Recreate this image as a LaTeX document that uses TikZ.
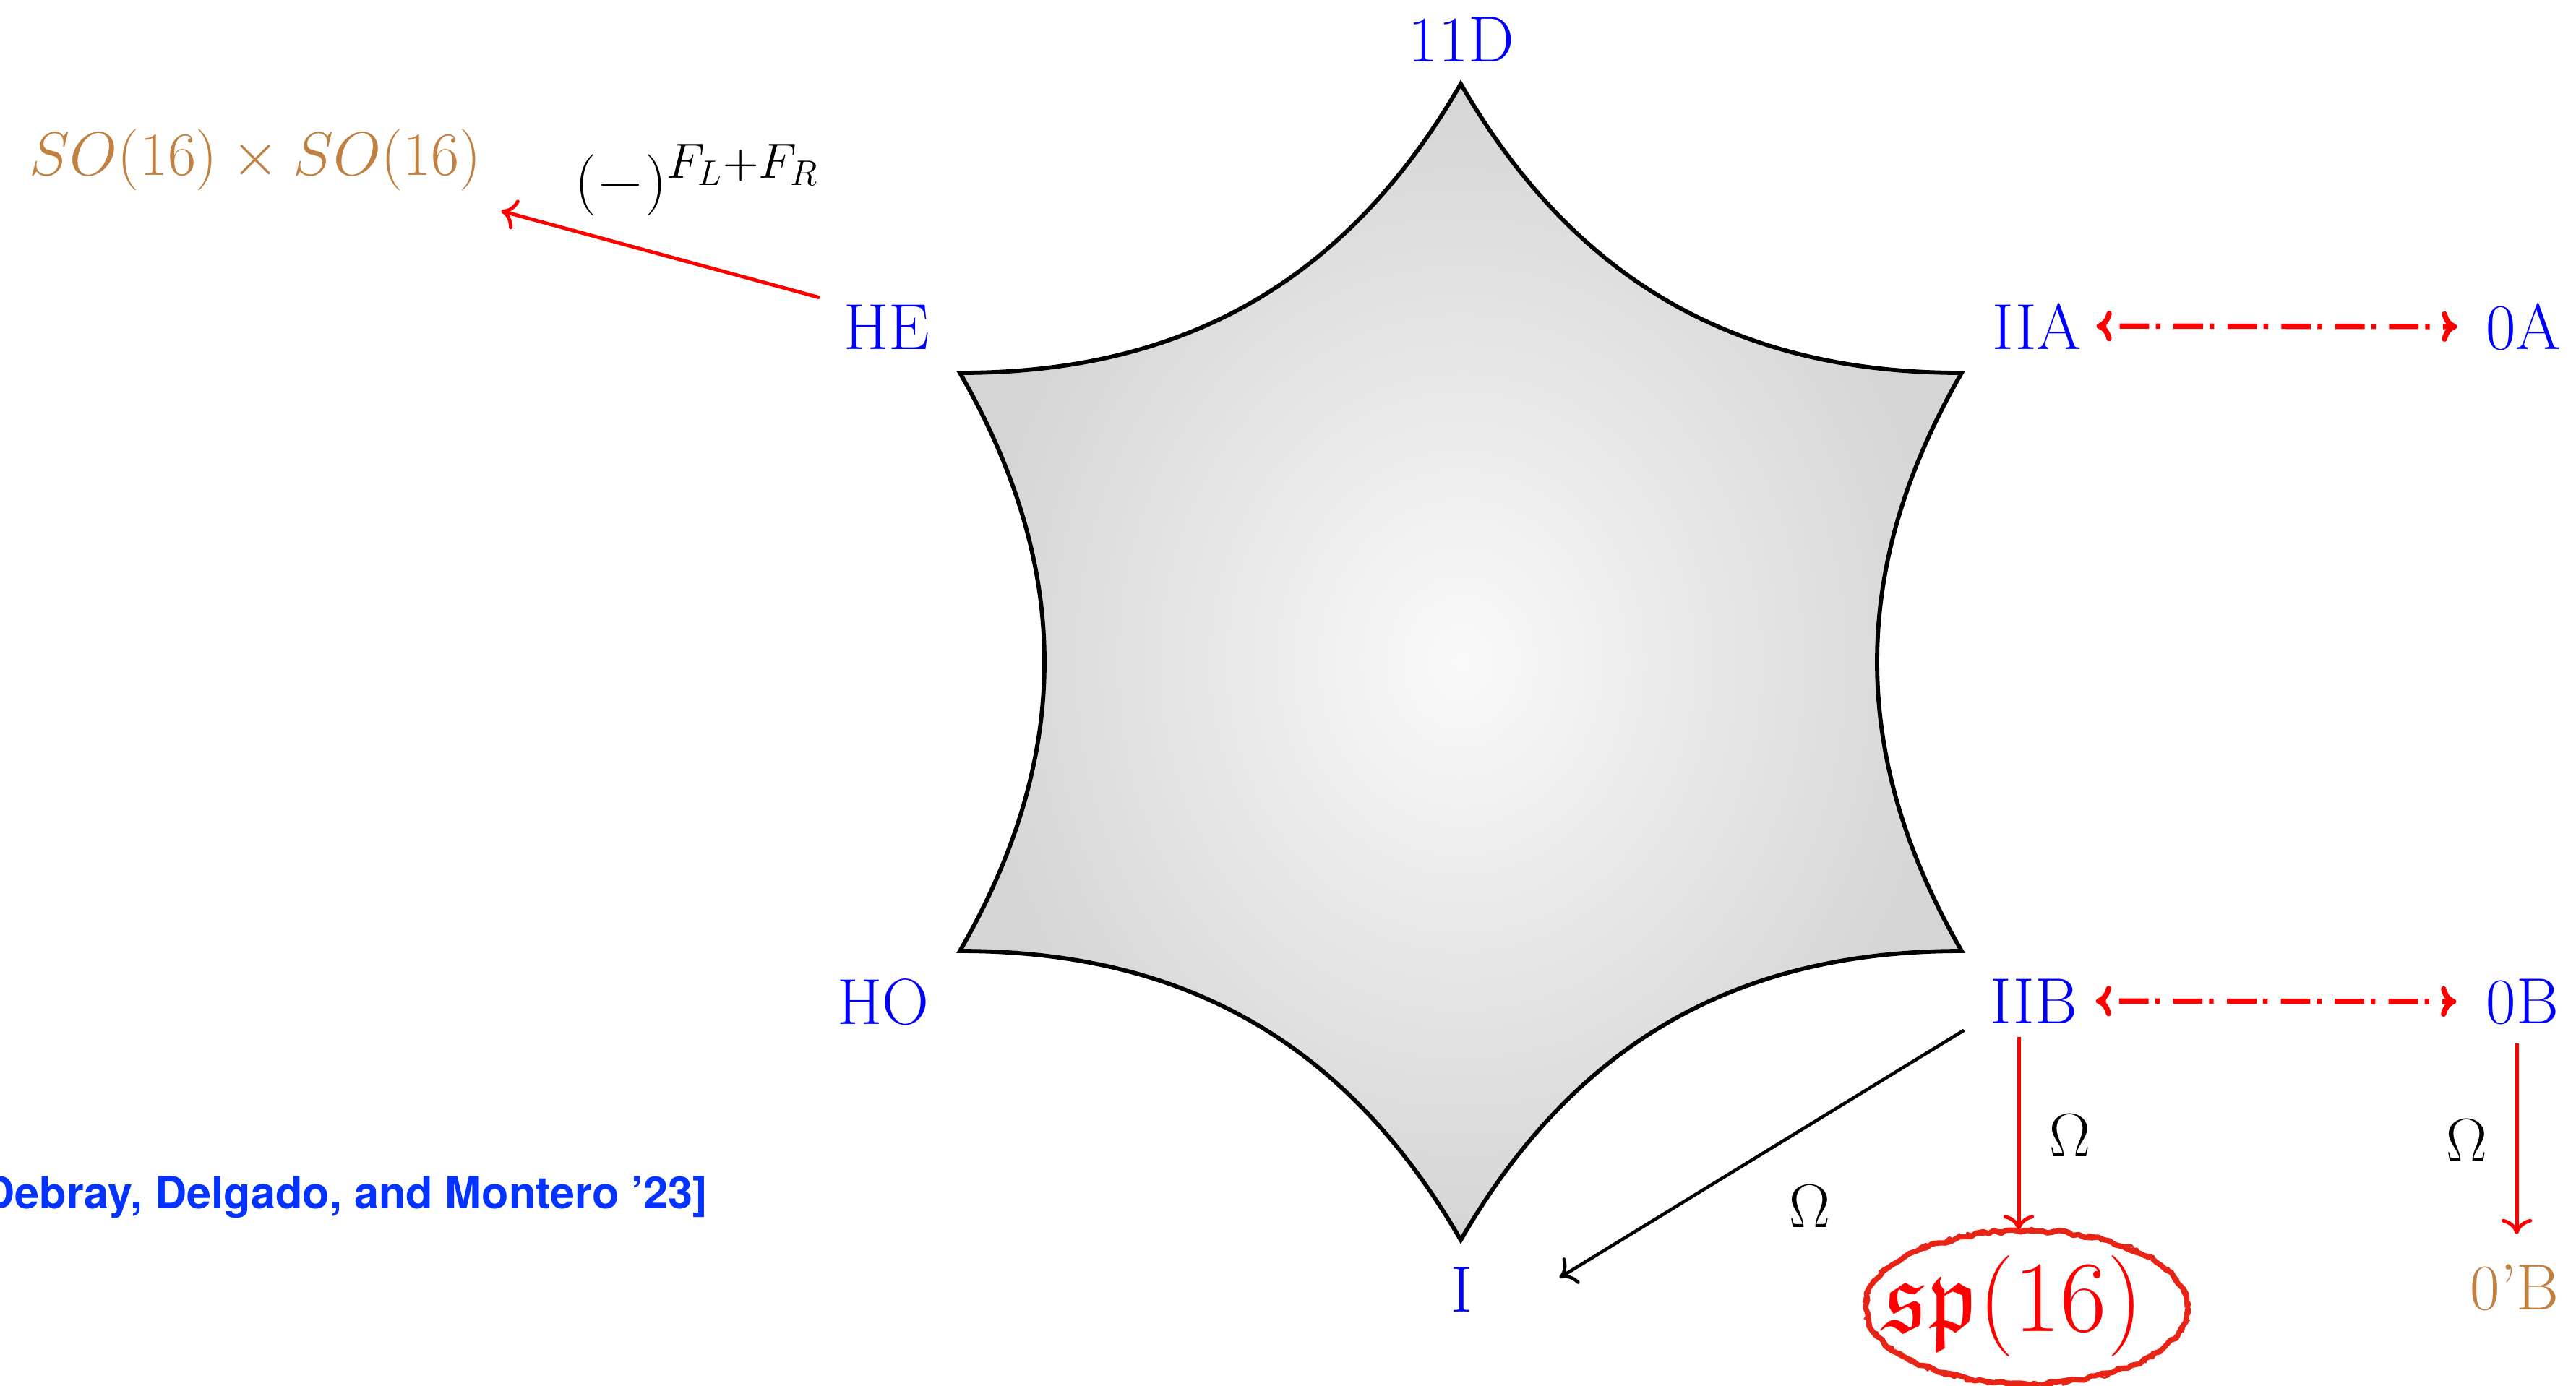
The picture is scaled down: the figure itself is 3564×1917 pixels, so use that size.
\RequirePackage{fix-cm}
\documentclass[tikz,border=0pt]{standalone}
\usepackage{amsmath,amssymb}
\usepackage{fontspec}
\newfontfamily\heros{TeX Gyre Heros}
\DeclareMathSizes{24.2}{24.2}{19.5}{14}
\usetikzlibrary{arrows.meta,decorations.pathmorphing,shapes.geometric,calc}
\definecolor{lblue}{RGB}{0,0,255}
\definecolor{sbrown}{RGB}{191,128,64}
\definecolor{citeblue}{RGB}{4,51,255}
\definecolor{crayon}{RGB}{232,36,22}
\begin{document}
\begin{tikzpicture}[x=0.01cm,y=-0.01cm,
  >={To[length=6pt,width=12pt]},
  lbl/.style={text=lblue, font=\fontsize{25.6pt}{30pt}\selectfont, inner sep=0pt, anchor=base},
  mathlbl/.style={font=\fontsize{24.2pt}{28pt}\selectfont, inner sep=0pt, anchor=base},
  starline/.style={draw=black, line width=1.65pt},
  redarr/.style={draw=red, line width=1.4pt, ->},
  blkarr/.style={draw=black, line width=1.3pt, ->},
  dd/.style={draw=red, line width=2.1pt, <->, dash pattern=on 1.8pt off 5.2pt on 11.6pt off 2.6pt},
  crayonline/.style={draw=crayon, line join=round, decorate,
     decoration={random steps, segment length=2.5pt, amplitude=0.7pt}}]
\useasboundingbox (0,0) rectangle (3564,1917);

% star
\coordinate (T) at (2021,116);
\coordinate (UR) at (2714,516);
\coordinate (LR) at (2714,1316);
\coordinate (B) at (2021,1716);
\coordinate (LL) at (1328,1316);
\coordinate (UL) at (1328,516);
\draw[starline, shade, inner color=gray!4, outer color=gray!33]
  (T) to[bend right=30] (UR) to[bend right=30] (LR) to[bend right=30] (B)
  to[bend right=30] (LL) to[bend right=30] (UL) to[bend right=30] cycle;

% labels
\node[lbl] (n11D) at (2022,85) {11D};
\node[lbl] (HE) at (1227,483) {HE};
\node[lbl] (IIA) at (2818,483) {IIA};
\node[lbl] (zA) at (3491,483) {0A};
\node[lbl] (HO) at (1222,1417) {HO};
\node[lbl] (IIB) at (2814,1416) {IIB};
\node[lbl] (zB) at (3490,1416) {0B};
\node[lbl] (I) at (2022,1815) {I};
\node[lbl, text=sbrown] (zpB) at (3479,1812) {0’B};

\node[mathlbl, text=sbrown, anchor=base west] (SO) at (40,242) {$SO(16)\times SO(16)$};
\node[mathlbl, text=black, anchor=base west] (FLR) at (795,277) {$(-)^{F_L+F_R}$};
\node[mathlbl, text=black] (om1) at (2504,1698) {$\Omega$};
\node[mathlbl, text=black] (om2) at (2864,1600) {$\Omega$};
\node[mathlbl, text=black] (om3) at (3413,1607) {$\Omega$};

\node[text=red, font=\fontsize{39.8pt}{44pt}\selectfont, inner sep=0pt, anchor=base] (sp) at (2785,1842) {$\mathfrak{sp}(16)$};
\node[ellipse, minimum width=4.44cm, minimum height=2.12cm, inner sep=0pt] (spE) at (2804,1809) {};
\pgfmathsetseed{7}
\draw[crayonline, line width=2.1pt] (spE.center) ellipse [x radius=2.22cm, y radius=1.06cm];
\pgfmathsetseed{21}
\draw[crayonline, line width=0.9pt, decoration={random steps, segment length=1.5pt, amplitude=1.1pt}] (spE.center) ellipse [x radius=2.23cm, y radius=1.07cm];

\node[anchor=base east, inner sep=0pt, text=citeblue, font={\fontsize{17.4pt}{20pt}\heros\bfseries}] (cite) at (980,1672) {[Debray, Delgado, and Montero ’23]};

% connectors
\draw[redarr] ([shift={(-33,-9)}]HE.north west) -- ([shift={(27,28)}]SO.south east);
\draw[dd, shorten <=0.20cm, shorten >=0.39cm] (IIA.east) -- (zA.west);
\draw[dd, shorten <=0.25cm, shorten >=0.41cm] (IIB.east) -- (zB.west);
\draw[blkarr] ([shift={(-36,9)}]IIB.south west) -- ([shift={(120,-16)}]I.east);
\draw[redarr] ([shift={(-21,18)}]IIB.south) -- ([shift={(-11,0)}]spE.north);
\draw[redarr] ([shift={(-8,26)}]zB.south) -- ([shift={(3,-41)}]zpB.north);
\end{tikzpicture}
\end{document}
